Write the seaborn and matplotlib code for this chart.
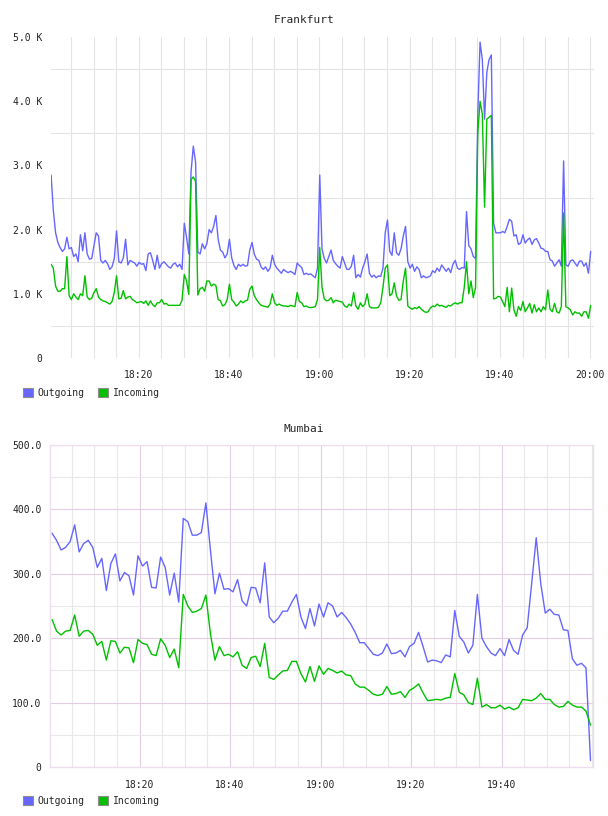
import matplotlib
matplotlib.use('Agg')
import matplotlib.pyplot as plt
import matplotlib.dates as mdates
import matplotlib.patches as mpatches
from matplotlib.ticker import FuncFormatter, FixedLocator, MultipleLocator
import seaborn as sns
import pandas as pd
import numpy as np

sns.set_style('white')
plt.rcParams['font.family'] = ['DejaVu Sans Mono']

# Frankfurt traffic (K), one sample every 30 s
fra_out = [2.85, 2.30, 1.95, 1.80, 1.72, 1.66, 1.70, 1.88, 1.70, 1.72,
           1.58, 1.62, 1.50, 1.92, 1.67, 1.95, 1.62, 1.54, 1.55, 1.75,
           1.95, 1.90, 1.52, 1.48, 1.52, 1.47, 1.38, 1.42, 1.55, 1.98,
           1.50, 1.48, 1.56, 1.85, 1.45, 1.52, 1.50, 1.48, 1.43, 1.49,
           1.46, 1.47, 1.36, 1.62, 1.64, 1.52, 1.38, 1.60, 1.40, 1.47,
           1.50, 1.46, 1.42, 1.40, 1.46, 1.48, 1.42, 1.46, 1.38, 2.10,
           1.88, 1.62, 2.90, 3.30, 3.05, 1.65, 1.62, 1.78, 1.70, 1.78,
           2.00, 1.95, 2.05, 2.22, 1.85, 1.68, 1.65, 1.56, 1.62, 1.85,
           1.56, 1.44, 1.38, 1.46, 1.43, 1.46, 1.43, 1.44, 1.68, 1.80,
           1.62, 1.54, 1.52, 1.42, 1.38, 1.42, 1.35, 1.40, 1.60, 1.46,
           1.40, 1.36, 1.32, 1.38, 1.35, 1.33, 1.35, 1.33, 1.30, 1.48,
           1.44, 1.41, 1.30, 1.32, 1.30, 1.31, 1.28, 1.25, 1.40, 2.85,
           1.70, 1.55, 1.48, 1.58, 1.68, 1.52, 1.47, 1.43, 1.40, 1.58,
           1.48, 1.38, 1.38, 1.43, 1.60, 1.25, 1.30, 1.26, 1.40, 1.50,
           1.62, 1.32, 1.26, 1.29, 1.25, 1.28, 1.27, 1.40, 1.95, 2.15,
           1.66, 1.60, 1.95, 1.64, 1.60, 1.70, 1.90, 2.05, 1.50, 1.40,
           1.46, 1.35, 1.42, 1.38, 1.25, 1.28, 1.25, 1.26, 1.28, 1.36,
           1.33, 1.40, 1.35, 1.45, 1.40, 1.35, 1.40, 1.33, 1.46, 1.52,
           1.40, 1.38, 1.41, 1.40, 2.28, 1.75, 1.70, 1.58, 1.55, 3.80,
           4.92, 4.65, 3.72, 4.45, 4.65, 4.72, 2.10, 1.95, 1.95, 1.95,
           1.97, 1.95, 2.05, 2.16, 2.13, 1.90, 1.92, 1.77, 1.79, 1.92,
           1.79, 1.84, 1.87, 1.77, 1.84, 1.86, 1.79, 1.71, 1.70, 1.66,
           1.66, 1.53, 1.51, 1.43, 1.48, 1.53, 1.43, 3.07, 1.45, 1.43,
           1.51, 1.53, 1.48, 1.43, 1.51, 1.51, 1.43, 1.48, 1.32, 1.66]
fra_in = [1.46, 1.40, 1.12, 1.04, 1.04, 1.08, 1.08, 1.58, 0.97, 0.91,
          1.00, 0.95, 0.91, 1.00, 0.97, 1.28, 0.95, 0.91, 0.93, 1.02,
          1.08, 0.95, 0.91, 0.89, 0.88, 0.86, 0.84, 0.88, 1.02, 1.28,
          0.92, 0.93, 1.05, 0.92, 0.95, 0.96, 0.91, 0.89, 0.86, 0.87,
          0.88, 0.85, 0.89, 0.82, 0.89, 0.83, 0.80, 0.86, 0.86, 0.91,
          0.84, 0.85, 0.82, 0.82, 0.82, 0.82, 0.82, 0.82, 0.90, 1.30,
          1.20, 0.99, 2.78, 2.82, 2.75, 0.98, 1.08, 1.10, 1.04, 1.20,
          1.20, 1.12, 1.15, 1.13, 0.91, 0.89, 0.81, 0.83, 0.91, 1.15,
          0.91, 0.87, 0.81, 0.84, 0.89, 0.86, 0.89, 0.90, 1.07, 1.12,
          0.97, 0.91, 0.86, 0.82, 0.81, 0.80, 0.79, 0.84, 1.00, 0.86,
          0.82, 0.84, 0.82, 0.81, 0.81, 0.80, 0.82, 0.81, 0.80, 1.02,
          0.88, 0.86, 0.80, 0.81, 0.79, 0.785, 0.79, 0.80, 0.91, 1.72,
          1.10, 0.92, 0.89, 0.90, 0.94, 0.86, 0.90, 0.89, 0.88, 0.87,
          0.81, 0.79, 0.84, 0.81, 1.02, 0.81, 0.76, 0.86, 0.80, 0.84,
          1.00, 0.80, 0.78, 0.78, 0.78, 0.79, 0.86, 1.10, 1.40, 1.45,
          0.97, 1.00, 1.17, 0.97, 0.90, 0.91, 1.20, 1.40, 0.81, 0.78,
          0.76, 0.785, 0.77, 0.80, 0.76, 0.73, 0.71, 0.72, 0.78, 0.81,
          0.80, 0.84, 0.81, 0.82, 0.80, 0.79, 0.82, 0.81, 0.84, 0.86,
          0.84, 0.86, 0.86, 1.10, 1.50, 1.00, 1.20, 0.94, 1.10, 3.50,
          4.00, 3.80, 2.35, 3.72, 3.75, 3.78, 0.92, 0.93, 0.96, 0.95,
          0.88, 0.80, 1.10, 0.72, 1.09, 0.75, 0.65, 0.80, 0.74, 0.88,
          0.72, 0.78, 0.85, 0.70, 0.83, 0.72, 0.78, 0.72, 0.80, 0.75,
          1.06, 0.76, 0.72, 0.85, 0.72, 0.70, 0.80, 2.26, 0.80, 0.78,
          0.75, 0.67, 0.72, 0.70, 0.70, 0.65, 0.72, 0.72, 0.62, 0.82]

# Mumbai traffic, one sample per minute
mum_out = [363, 352, 337, 341, 350, 376, 334, 347, 352, 341,
           310, 324, 274, 316, 331, 289, 302, 297, 267, 328,
           312, 319, 279, 278, 326, 310, 267, 301, 256, 386,
           381, 360, 360, 364, 410, 337, 269, 301, 276, 277,
           272, 291, 258, 250, 279, 278, 255, 317, 233, 224,
           231, 242, 242, 256, 268, 233, 215, 246, 219, 253,
           233, 255, 250, 233, 240, 232, 222, 209, 193, 193,
           184, 175, 173, 177, 191, 176, 177, 181, 171, 187,
           192, 209, 187, 163, 166, 165, 162, 174, 171, 243,
           203, 194, 177, 189, 268, 200, 187, 177, 173, 184,
           173, 198, 181, 175, 205, 216, 285, 356, 285, 239,
           245, 237, 236, 213, 212, 168, 158, 161, 154, 10]
mum_in = [229, 211, 205, 211, 212, 236, 203, 211, 212, 206,
          189, 195, 166, 196, 195, 177, 186, 185, 162, 198,
          192, 190, 175, 173, 199, 189, 170, 183, 154, 268,
          250, 240, 242, 246, 267, 207, 166, 187, 173, 175,
          171, 179, 158, 153, 170, 172, 156, 192, 139, 136,
          143, 149, 150, 164, 164, 145, 132, 156, 133, 157,
          144, 153, 150, 146, 149, 143, 142, 129, 124, 124,
          119, 113, 111, 113, 125, 113, 114, 117, 108, 119,
          123, 129, 115, 103, 104, 105, 104, 107, 108, 145,
          116, 112, 100, 97, 138, 93, 97, 92, 92, 96,
          90, 93, 89, 92, 105, 104, 103, 107, 114, 105,
          105, 97, 93, 94, 102, 96, 93, 93, 87, 65]

series = ['Outgoing', 'Incoming']
colors = {'Outgoing': '#6666ff', 'Incoming': '#00c000'}

fra_time = pd.date_range('2024-01-01 18:00:36', periods=len(fra_out), freq='30s')
mum_time = pd.date_range('2024-01-01 18:00:40', periods=len(mum_out), freq='1min')
mum_labels = pd.date_range('2024-01-01 18:20', '2024-01-01 19:40', freq='20min')


def long_df(times, out, inc):
    return pd.DataFrame({
        'time': list(times) + list(times),
        'value': list(out) + list(inc),
        'series': ['Outgoing'] * len(out) + ['Incoming'] * len(inc),
    })


fra = long_df(fra_time, fra_out, fra_in)
mum = long_df(mum_time, mum_out, mum_in)

W, H = 608, 816
fig = plt.figure(figsize=(W / 100, H / 100), dpi=100)
ax1 = fig.add_axes([51 / W, 1 - 358 / H, 543 / W, 321 / H])
ax2 = fig.add_axes([50 / W, 1 - 767 / H, 543 / W, 322 / H])

for ax, df in [(ax1, fra), (ax2, mum)]:
    sns.lineplot(data=df, x='time', y='value', hue='series', hue_order=series,
                 palette=colors, estimator=None, linewidth=1.0, legend=False, ax=ax)
    ax.set_xlabel('')
    ax.set_ylabel('')
    ax.xaxis.set_major_locator(mdates.MinuteLocator(byminute=[0, 20, 40]))
    ax.xaxis.set_major_formatter(mdates.DateFormatter('%H:%M'))
    ax.xaxis.set_minor_locator(mdates.MinuteLocator(byminute=range(0, 60, 5)))
    ax.tick_params(which='both', length=0, labelsize=7, colors='#222222')
    ax.tick_params(axis='x', pad=9)
    ax.tick_params(axis='y', pad=6)
    ax.set_axisbelow(True)

# Frankfurt axes
ax1.set_xlim(pd.Timestamp('2024-01-01 18:00:35'), pd.Timestamp('2024-01-01 20:00:50'))
ax1.set_ylim(0, 5)
ax1.yaxis.set_major_locator(MultipleLocator(1))
ax1.yaxis.set_major_formatter(FuncFormatter(lambda v, p: '0' if v == 0 else f'{v:.1f} K'))
ax1.yaxis.set_minor_locator(FixedLocator([0.5, 1.5, 2.5, 3.5, 4.5]))
ax1.grid(False)
ax1.grid(which='both', axis='x', color='#e4e4e4', linewidth=0.8)
ax1.grid(which='minor', axis='y', color='#e4e4e4', linewidth=0.8)
for s in ax1.spines.values():
    s.set_visible(False)

# Mumbai axes
ax2.set_xlim(pd.Timestamp('2024-01-01 18:00:13'), pd.Timestamp('2024-01-01 20:00:13'))
ax2.xaxis.set_major_locator(FixedLocator(mdates.date2num(mum_labels)))
ax2.set_ylim(0, 500)
ax2.yaxis.set_major_locator(MultipleLocator(100))
ax2.yaxis.set_major_formatter(FuncFormatter(lambda v, p: '0' if v == 0 else f'{v:.1f}'))
ax2.yaxis.set_minor_locator(MultipleLocator(50))
ax2.grid(False)
ax2.grid(which='minor', color='#e8e8e8', linewidth=0.8)
ax2.grid(which='major', color='#e4cce4', linewidth=0.8)
for s in ax2.spines.values():
    s.set_color('#eedeee')
    s.set_linewidth(1.0)

fig.text(0.5, 1 - 20 / H, 'Frankfurt', ha='center', va='center', fontsize=8)
fig.text(0.5, 1 - 429 / H, 'Mumbai', ha='center', va='center', fontsize=8)

handles = [mpatches.Patch(facecolor=colors[s], edgecolor='#8c8c8c', linewidth=0.8, label=s)
           for s in series]
for ytop in (388, 796):
    fig.legend(handles=handles, loc='upper left', bbox_to_anchor=(23 / W, 1 - ytop / H),
               ncol=2, frameon=False, fontsize=7, handlelength=1.0, handleheight=1.0,
               handletextpad=0.5, columnspacing=1.4, borderpad=0, borderaxespad=0)

fig.savefig('out.png', dpi=100)
